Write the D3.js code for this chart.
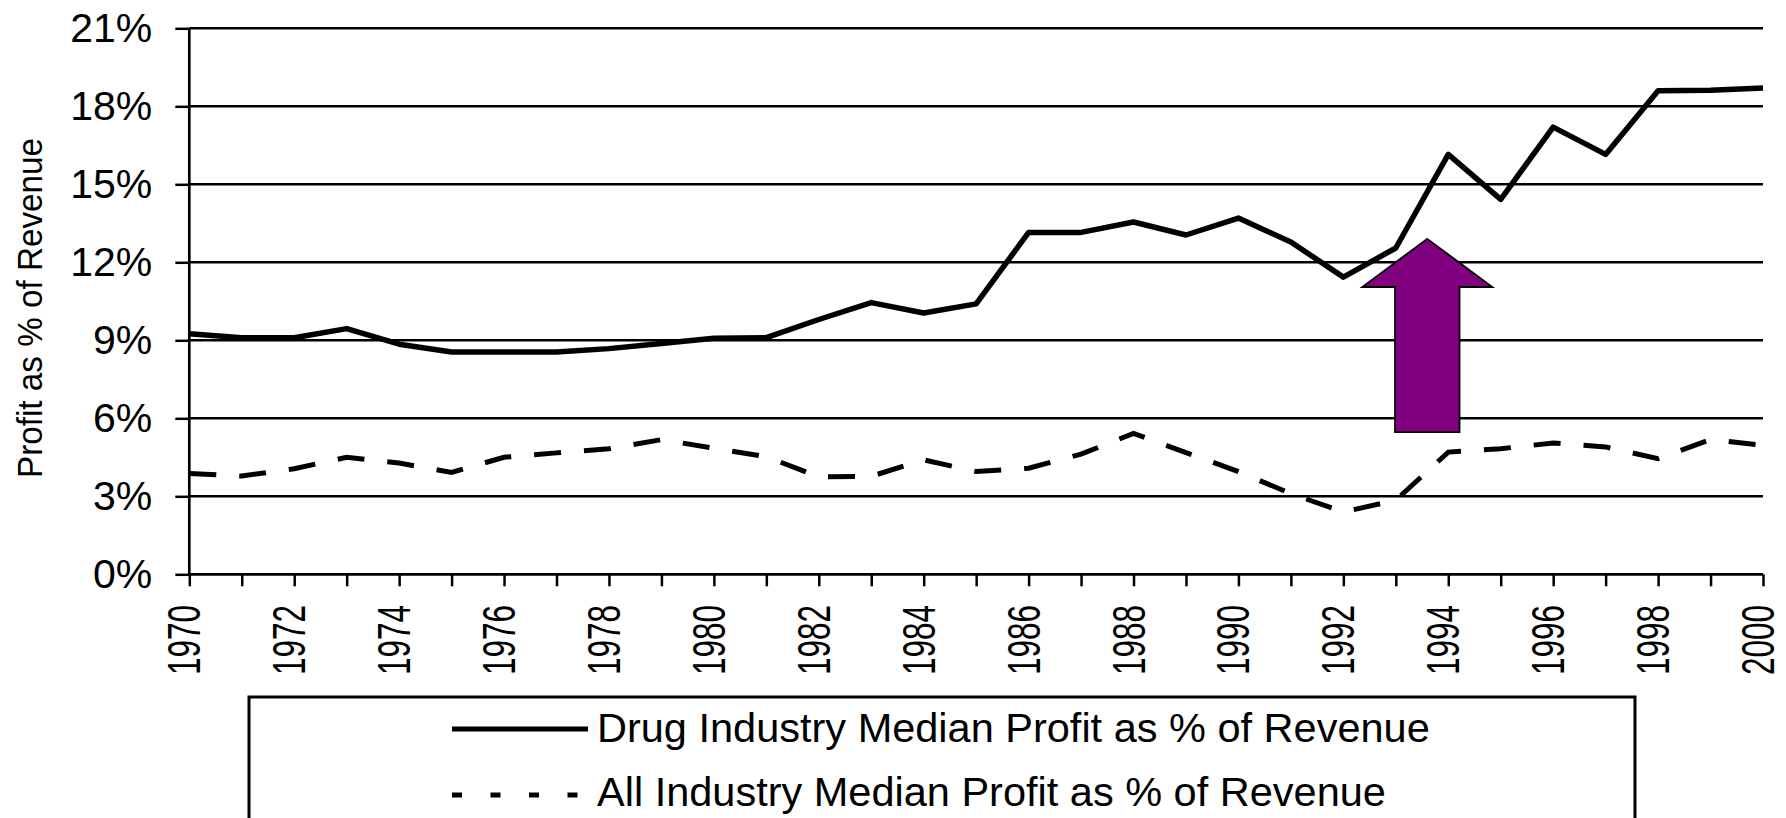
<!DOCTYPE html>
<html>
<head>
<meta charset="utf-8">
<script src="https://cdn.jsdelivr.net/npm/d3@7"></script>
<style>
  html, body { margin: 0; padding: 0; background: #fff; }
  svg { display: block; }
  text { font-family: "Liberation Sans", Arial, sans-serif; fill: #000; }
</style>
</head>
<body>
<svg id="chart" width="1786" height="818"></svg>
<script>
// Median profit as % of revenue, 1970–2000
const years = [1970, 1971, 1972, 1973, 1974, 1975, 1976, 1977, 1978, 1979,
               1980, 1981, 1982, 1983, 1984, 1985, 1986, 1987, 1988, 1989,
               1990, 1991, 1992, 1993, 1994, 1995, 1996, 1997, 1998, 1999, 2000];

const drugIndustry = [9.25, 9.1, 9.1, 9.45, 8.85, 8.55, 8.55, 8.55, 8.68, 8.88,
                      9.08, 9.1, 9.8, 10.45, 10.05, 10.4, 13.15, 13.15, 13.55, 13.05,
                      13.7, 12.78, 11.43, 12.55, 16.15, 14.42, 17.2, 16.15, 18.6, 18.62, 18.7];

const allIndustry = [3.88, 3.78, 4.06, 4.5, 4.28, 3.92, 4.5, 4.67, 4.83, 5.18,
                     4.85, 4.52, 3.75, 3.77, 4.4, 3.95, 4.08, 4.62, 5.42, 4.68,
                     3.95, 3.1, 2.4, 2.85, 4.7, 4.83, 5.05, 4.9, 4.45, 5.18, 4.96];

const yTicks = [0, 3, 6, 9, 12, 15, 18, 21];
const xLabelYears = [1970, 1972, 1974, 1976, 1978, 1980, 1982, 1984, 1986, 1988,
                     1990, 1992, 1994, 1996, 1998, 2000];

const seriesNames = ["Drug Industry Median Profit as % of Revenue",
                     "All Industry Median Profit as % of Revenue"];
const yTitle = "Profit as % of Revenue";

// Up-arrow callout around the 1993–94 jump (data units)
const arrowYear = 1993.6, arrowTip = 12.9, arrowNeck = 11.05, arrowBase = 5.47;
const arrowShaftHalf = 0.615, arrowHeadHalf = 1.24;

const svg = d3.select("#chart");

const x = d3.scaleLinear().domain([1970, 2000]).range([189.3, 1763]);
const y = d3.scaleLinear().domain([0, 21]).range([574.3, 28.3]);

// Horizontal gridlines
svg.append("g")
  .selectAll("line")
  .data(yTicks.filter(d => d > 0))
  .join("line")
  .attr("x1", x(1970)).attr("x2", x(2000))
  .attr("y1", d => y(d)).attr("y2", d => y(d))
  .attr("stroke", "#000").attr("stroke-width", 2.5);

// Y axis
const yAxis = svg.append("g")
  .attr("transform", `translate(${x(1970)},0)`)
  .call(d3.axisLeft(y).tickValues(yTicks).tickSize(14).tickPadding(23)
        .tickFormat(d => d + "%"));
yAxis.select(".domain").attr("stroke", "#000").attr("stroke-width", 2.7)
  .attr("d", `M0,${y(0)}V${y(21)}`);
yAxis.selectAll(".tick line").attr("stroke", "#000").attr("stroke-width", 2.5);
yAxis.selectAll(".tick text")
  .attr("font-size", 41)
  .attr("font-family", "Liberation Sans, Arial, sans-serif")
  .attr("fill", "#000");

// X axis: ticks every year, labels on even years
const xAxis = svg.append("g")
  .attr("transform", `translate(0,${y(0)})`)
  .call(d3.axisBottom(x).tickValues(years).tickSize(12).tickFormat(""));
xAxis.select(".domain").attr("stroke", "#000").attr("stroke-width", 2.7)
  .attr("d", `M${x(1970)},0H${x(2000)}`);
xAxis.selectAll(".tick line").attr("stroke", "#000").attr("stroke-width", 2.5);

svg.append("g")
  .selectAll("text")
  .data(xLabelYears)
  .join("text")
  .attr("transform", d => `translate(${x(d) + 11},605) rotate(-90) scale(0.685,1)`)
  .attr("text-anchor", "end")
  .attr("font-size", 46)
  .text(d => d);

// Y-axis title
svg.append("text")
  .attr("transform", "translate(42,308) rotate(-90) scale(0.95,1)")
  .attr("text-anchor", "middle")
  .attr("font-size", 35)
  .text(yTitle);

// Series lines
const line = d3.line()
  .x((d, i) => x(years[i]))
  .y(d => y(d));

svg.append("path")
  .datum(allIndustry)
  .attr("d", line)
  .attr("fill", "none")
  .attr("stroke", "#000")
  .attr("stroke-width", 5)
  .attr("stroke-dasharray", "27,23");

svg.append("path")
  .datum(drugIndustry)
  .attr("d", line)
  .attr("fill", "none")
  .attr("stroke", "#000")
  .attr("stroke-width", 5.5)
  .attr("stroke-linejoin", "round");

// Arrow callout
const ax = x(arrowYear);
const sh = x(arrowYear + arrowShaftHalf) - ax;
const hh = x(arrowYear + arrowHeadHalf) - ax;
const arrowPts = [
  [ax, y(arrowTip)],
  [ax + hh, y(arrowNeck)],
  [ax + sh, y(arrowNeck)],
  [ax + sh, y(arrowBase)],
  [ax - sh, y(arrowBase)],
  [ax - sh, y(arrowNeck)],
  [ax - hh, y(arrowNeck)]
];
svg.append("path")
  .attr("d", "M" + arrowPts.map(p => p.join(",")).join("L") + "Z")
  .attr("fill", "#800080")
  .attr("stroke", "#000")
  .attr("stroke-width", 1.8);

// Legend
const legend = svg.append("g");
legend.append("rect")
  .attr("x", 249).attr("y", 697)
  .attr("width", 1386).attr("height", 160)
  .attr("fill", "#fff").attr("stroke", "#000").attr("stroke-width", 3);

const legendRows = [
  { name: seriesNames[0], dash: null, lineY: 729, textY: 727, width: 5 },
  { name: seriesNames[1], dash: "10,28.5", lineY: 795, textY: 791, width: 5 }
];
legendRows.forEach(r => {
  legend.append("line")
    .attr("x1", 452).attr("x2", 588)
    .attr("y1", r.lineY).attr("y2", r.lineY)
    .attr("stroke", "#000").attr("stroke-width", r.width)
    .attr("stroke-dasharray", r.dash);
  legend.append("text")
    .attr("x", 597).attr("y", r.textY)
    .attr("dominant-baseline", "central")
    .attr("font-size", 41.5)
    .text(r.name);
});
</script>
</body>
</html>
